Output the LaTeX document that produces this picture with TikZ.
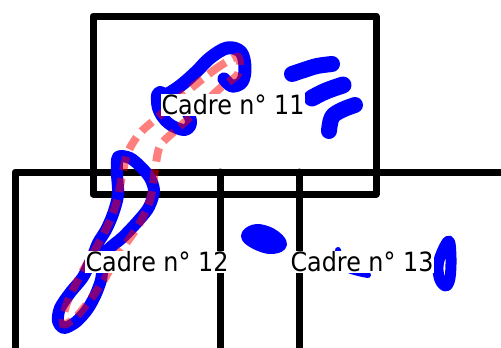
\documentclass[tikz,border=0pt]{standalone}
\usepackage{fontspec}
\newfontfamily\labfont[FakeStretch=0.9]{DejaVu Sans}
\begin{document}
\begin{tikzpicture}[x=1pt,y=-1pt,
  frame/.style={line width=7pt, line join=round, line cap=round},
  ink/.style={draw={rgb,255:red,0;green,0;blue,255}, line width=12pt, line cap=round, line join=round},
  trace/.style={draw=red, draw opacity=0.5, line width=8pt, dash pattern=on 14pt off 8pt},
  lab/.style={fill=white, inner sep=1pt, font=\labfont\fontsize{26.5}{30}\selectfont, text=black}]
\useasboundingbox (0,0) rectangle (501,348);
% frames
\draw[frame] (93,16) rectangle (376,194);
\draw[frame] (15,370) -- (15,172) -- (520,172);
\draw[frame] (220,172) -- (220,370);
\draw[frame] (299,172) -- (299,370);
% blue sketch strokes
\draw[ink, line width=13pt] plot[smooth, tension=0.6] coordinates {(163,97) (180,86) (196,72) (210,58) (227,48) (241,52) (245,68) (242,82) (232,86) (224,79)};
\draw[ink] plot[smooth cycle, tension=0.6] coordinates {(160,92) (158,108) (168,123) (184,130) (191,123) (185,110)};
\draw[ink] plot[smooth cycle, tension=0.5] coordinates {(118,157) (130,158) (141,167) (150,178) (154,191) (149,207) (139,220) (123,237) (108,250) (103,265) (101,280) (95,296) (87,310) (76,322) (64,328) (58,321) (60,308) (70,293) (83,277) (92,258) (98,243) (106,230) (113,214) (118,195) (117,173)};
\draw[ink, line width=16pt] plot[smooth, tension=0.6] coordinates {(292,74) (304,70) (317,66) (332,64)};
\draw[ink, line width=17pt] plot[smooth, tension=0.6] coordinates {(312,98) (326,91) (343,85)};
\draw[ink, line width=16pt] plot[smooth, tension=0.6] coordinates {(329,131) (332,117) (342,110) (355,105)};
\draw[ink, line width=14pt] plot[smooth cycle, tension=0.6] coordinates {(248,236) (257,231) (271,235) (280,244) (270,247) (257,243)};
\draw[ink, line width=6pt] plot[smooth, tension=0.6] coordinates {(338,250) (345,268) (368,275)};
\draw[ink, line width=11pt] plot[smooth cycle, tension=0.6] coordinates {(449,241) (451,258) (450,278) (446,286) (440,280) (438,266) (442,252)};
% semi-transparent dashed trace
\draw[trace] plot[smooth cycle, tension=0.5] coordinates {(238,57) (220,66) (200,81) (178,99) (158,117) (140,133) (128,152) (122,176) (117,201) (108,225) (95,250) (80,276) (67,303) (63,324) (75,318) (90,300) (104,280) (118,255) (138,226) (150,200) (155,170) (160,146) (176,130) (196,112) (218,90) (238,74)};
% labels
\node[lab] (l11) at (233,105) {Cadre n° 11};
\node[lab] (l12) at (157,262) {Cadre n° 12};
\node[lab] (l13) at (362,262) {Cadre n° 13};
\end{tikzpicture}
\end{document}
